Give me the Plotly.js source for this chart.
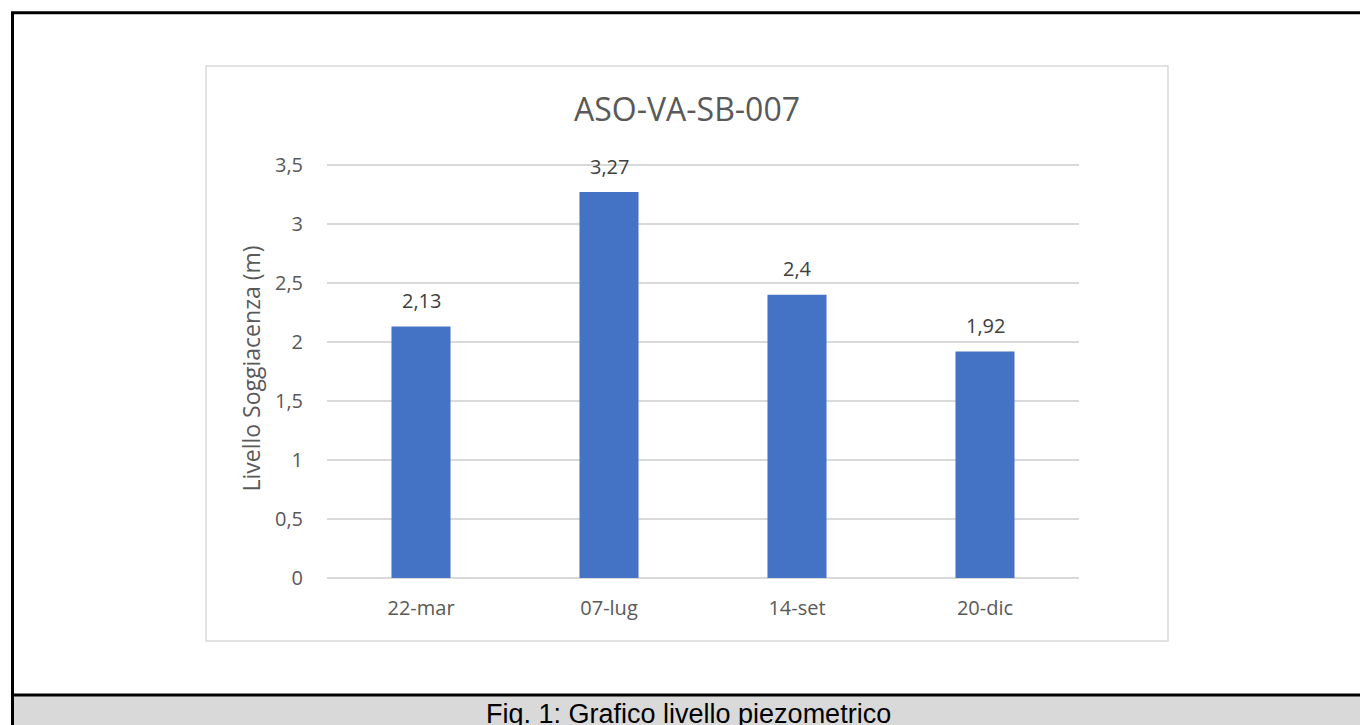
<!DOCTYPE html>
<html>
<head>
<meta charset="utf-8">
<script src="https://cdn.plot.ly/plotly-3.0.1.min.js"></script>
<style>
html,body{margin:0;padding:0;background:#fff;overflow:hidden;}
#chart{width:1360px;height:725px;}
</style>
</head>
<body>
<div id="chart"></div>
<script>
// ---- data ----
var categories = ["22-mar", "07-lug", "14-set", "20-dic"];
var livello = [2.13, 3.27, 2.4, 1.92];
var livelloLabels = ["2,13", "3,27", "2,4", "1,92"];
var yTickVals = [0, 0.5, 1, 1.5, 2, 2.5, 3, 3.5];
var chartTitle = "ASO-VA-SB-007";
var yTitle = "Livello Soggiacenza (m)";
var caption = "Fig. 1: Grafico livello piezometrico";

// ---- geometry (pixels) ----
var W = 1360, H = 725;
var yMax = 3.55;                 // small headroom so the 3,5 gridline is drawn
var pxPerUnit = 413 / 3.5;
var plotL = 327, plotR = 1079, plotB = 578;
var plotT = plotB - yMax * pxPerUnit;
function px(x){ return (x - plotL) / (plotR - plotL); }
function py(y){ return (plotB - y) / (plotB - plotT); }

var font = "'Open Sans', 'Noto Sans', sans-serif";

var trace = {
  type: "bar",
  x: categories,
  y: livello,
  marker: {color: "#4472c4"},
  hoverinfo: "x+y"
};

// data labels above the bars, anchored to the data values
var labelAnnotations = categories.map(function(c, i){
  return {
    x: c, y: livello[i], xref: "x", yref: "y",
    text: livelloLabels[i], showarrow: false,
    xanchor: "center", yanchor: "middle", yshift: 26,
    font: {family: font, size: 20, color: "#404040"}
  };
});

var layout = {
  width: W, height: H,
  margin: {l: plotL, r: W - plotR, t: plotT, b: H - plotB, pad: 0},
  paper_bgcolor: "rgba(0,0,0,0)",
  plot_bgcolor: "rgba(0,0,0,0)",
  separators: ",.",
  bargap: 0.686,
  showlegend: false,
  font: {family: font, color: "#595959"},
  title: {
    text: chartTitle,
    font: {family: font, size: 32, color: "#595959"},
    xref: "container", x: 687 / W, xanchor: "center",
    yref: "container", y: 1 - 110 / H, yanchor: "middle"
  },
  xaxis: {
    type: "category",
    showgrid: false, showline: false, zeroline: false,
    ticks: "outside", ticklen: 12, tickcolor: "rgba(0,0,0,0)",
    tickfont: {family: font, size: 20, color: "#595959"}
  },
  yaxis: {
    range: [0, yMax],
    tickvals: yTickVals,
    showgrid: true, gridcolor: "#d9d9d9", gridwidth: 1.5,
    zeroline: true, zerolinecolor: "#d9d9d9", zerolinewidth: 1.5,
    showline: false,
    ticks: "outside", ticklen: 19, tickcolor: "rgba(0,0,0,0)",
    tickfont: {family: font, size: 20, color: "#595959"},
    title: {text: yTitle, font: {family: font, size: 23, color: "#595959"}, standoff: 7}
  },
  shapes: [
    // outer document frame
    {type: "rect", xref: "paper", yref: "paper", layer: "below",
     x0: px(12.5), x1: px(1375), y0: py(13), y1: py(740),
     line: {color: "#000", width: 3}, fillcolor: "#fff"},
    // chart area frame
    {type: "rect", xref: "paper", yref: "paper", layer: "below",
     x0: px(206), x1: px(1168), y0: py(66), y1: py(641),
     line: {color: "#d9d9d9", width: 1.5}, fillcolor: "#fff"},
    // caption band
    {type: "rect", xref: "paper", yref: "paper", layer: "below",
     x0: px(12.5), x1: px(1375), y0: py(695), y1: py(740),
     line: {color: "#000", width: 3}, fillcolor: "#d9d9d9"}
  ],
  annotations: labelAnnotations.concat([
    {text: caption, xref: "paper", yref: "paper",
     x: px(688), y: py(714), xanchor: "center", yanchor: "middle",
     showarrow: false,
     font: {family: "'Liberation Sans', Arial, sans-serif", size: 27, color: "#000"}}
  ])
};

Plotly.newPlot("chart", [trace], layout, {displayModeBar: false, staticPlot: true});
</script>
</body>
</html>
